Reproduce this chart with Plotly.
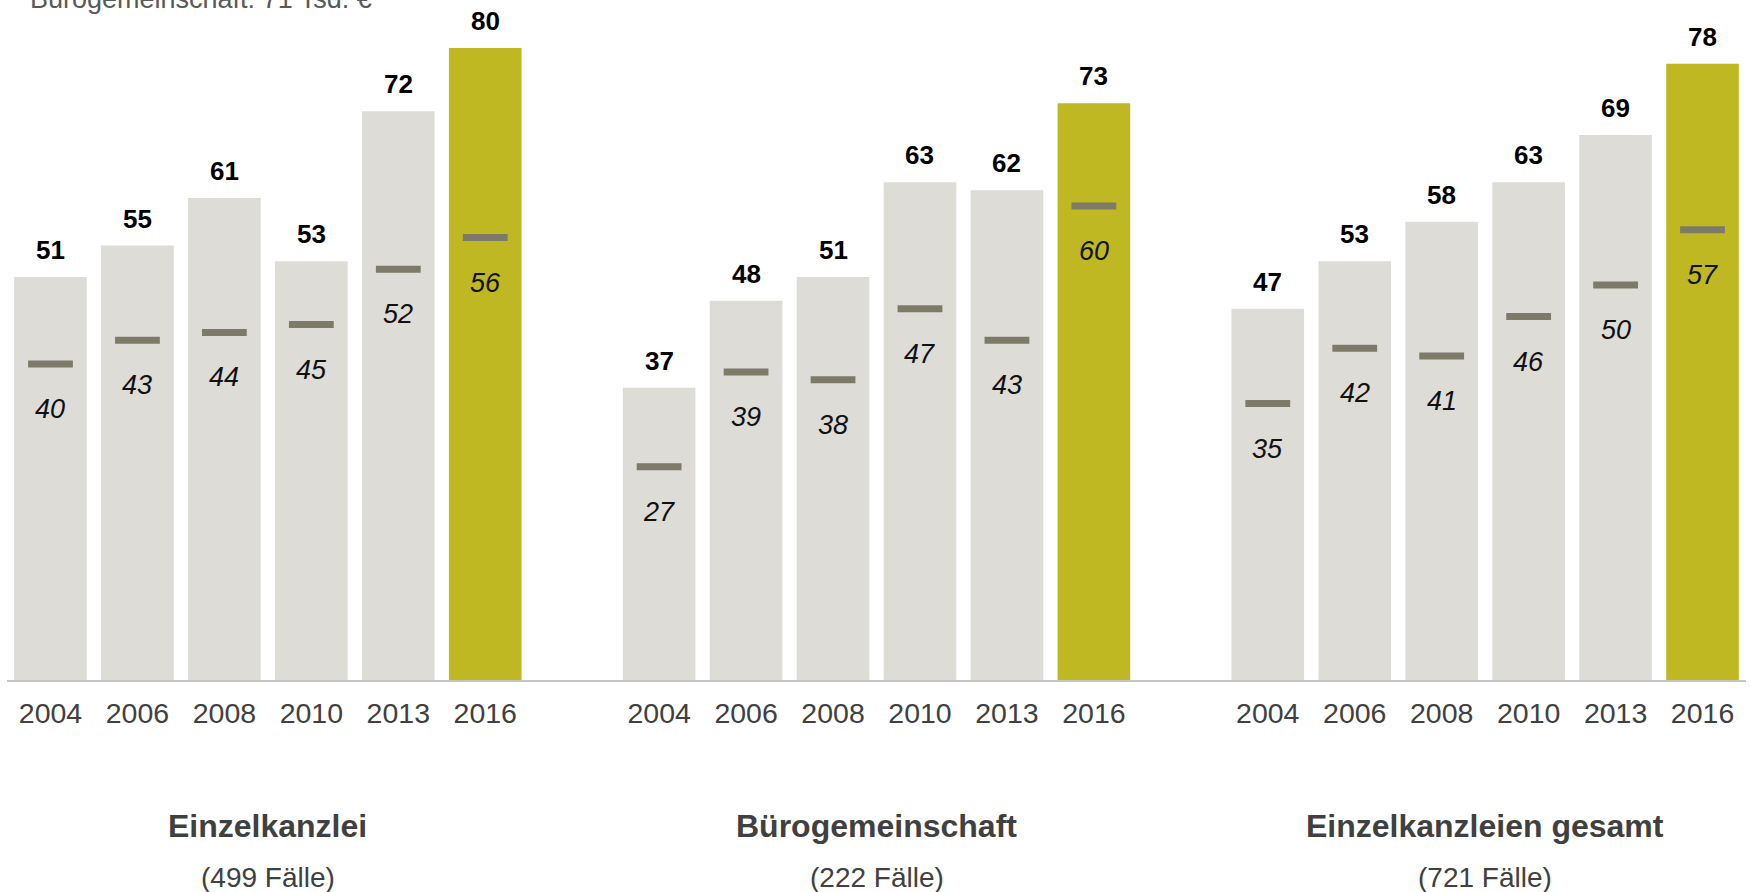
import plotly.graph_objects as go

# Categories and values
years = ["2004", "2006", "2008", "2010", "2013", "2016"]
groups = ["Einzelkanzlei", "Bürogemeinschaft", "Einzelkanzleien gesamt"]
cases = ["(499 Fälle)", "(222 Fälle)", "(721 Fälle)"]

# upper values (bars) per group
einzel_top = [51, 55, 61, 53, 72, 80]
buero_top = [37, 48, 51, 63, 62, 73]
gesamt_top = [47, 53, 58, 63, 69, 78]

# median values (markers) per group
einzel_med = [40, 43, 44, 45, 52, 56]
buero_med = [27, 39, 38, 47, 43, 60]
gesamt_med = [35, 42, 41, 46, 50, 57]

header_text = "Bürogemeinschaft: 71 Tsd. €"

tops = [einzel_top, buero_top, gesamt_top]
meds = [einzel_med, buero_med, gesamt_med]

GRAY = "#dddcd7"
OLIVE = "#bfb823"
MARK = "#7d7b68"
FONT = "Arial, Liberation Sans, sans-serif"

# slot positions: six bars per group, one empty slot between groups
xs, ys, ms, cols, tickv, tickt, centers = [], [], [], [], [], [], []
for g in range(3):
    start = g * 7
    pos = [start + i for i in range(len(years))]
    centers.append(sum(pos) / len(pos))
    for i, p in enumerate(pos):
        xs.append(p)
        ys.append(tops[g][i])
        ms.append(meds[g][i])
        cols.append(OLIVE if i == len(years) - 1 else GRAY)
        tickv.append(p)
        tickt.append(years[i])

fig = go.Figure()
fig.add_trace(go.Bar(x=xs, y=ys, marker=dict(color=cols, line=dict(width=0)),
                     hoverinfo="skip", showlegend=False))
fig.add_trace(go.Scatter(x=xs, y=ms, mode="markers",
                         marker=dict(symbol="line-ew-open", size=32, color=MARK,
                                     line=dict(color=MARK, width=7)),
                         hoverinfo="skip", showlegend=False, cliponaxis=False))

annotations = []
for x, y, m in zip(xs, ys, ms):
    annotations.append(dict(x=x, y=y, xref="x", yref="y", text=f"<b>{y}</b>",
                            showarrow=False, yanchor="middle", yshift=27,
                            font=dict(family=FONT, size=26, color="#000000")))
    annotations.append(dict(x=x, y=m, xref="x", yref="y", text=f"<i>{m}</i>",
                            showarrow=False, yanchor="middle", yshift=-45,
                            font=dict(family=FONT, size=27, color="#111111")))

for c, gname, cs in zip(centers, groups, cases):
    annotations.append(dict(x=c, y=-0.214, xref="x", yref="paper",
                            text=f"<b>{gname}</b>", showarrow=False, yanchor="middle",
                            font=dict(family=FONT, size=32, color="#404040")))
    annotations.append(dict(x=c, y=-0.29, xref="x", yref="paper",
                            text=cs, showarrow=False, yanchor="middle",
                            font=dict(family=FONT, size=28, color="#404040")))

annotations.append(dict(x=0.0121, y=1.0, xref="paper", yref="paper",
                        text=header_text, showarrow=False, xanchor="left",
                        yanchor="middle", yshift=1,
                        font=dict(family=FONT, size=27, color="#595959")))

fig.update_layout(
    width=1750, height=892,
    margin=dict(l=7, r=4, t=0, b=212),
    paper_bgcolor="white", plot_bgcolor="white",
    bargap=0.165,
    annotations=annotations,
    xaxis=dict(range=[-0.5, 19.5], tickmode="array", tickvals=tickv, ticktext=tickt,
               showgrid=False, zeroline=False, showline=True, linecolor="#c4c4c4",
               linewidth=1.5, ticks="", tickfont=dict(family=FONT, size=28.5, color="#404040"),
               ticklabelstandoff=7),
    yaxis=dict(range=[0, 86.08], visible=False, showgrid=False, zeroline=False),
)

fig.write_html("out.html")
